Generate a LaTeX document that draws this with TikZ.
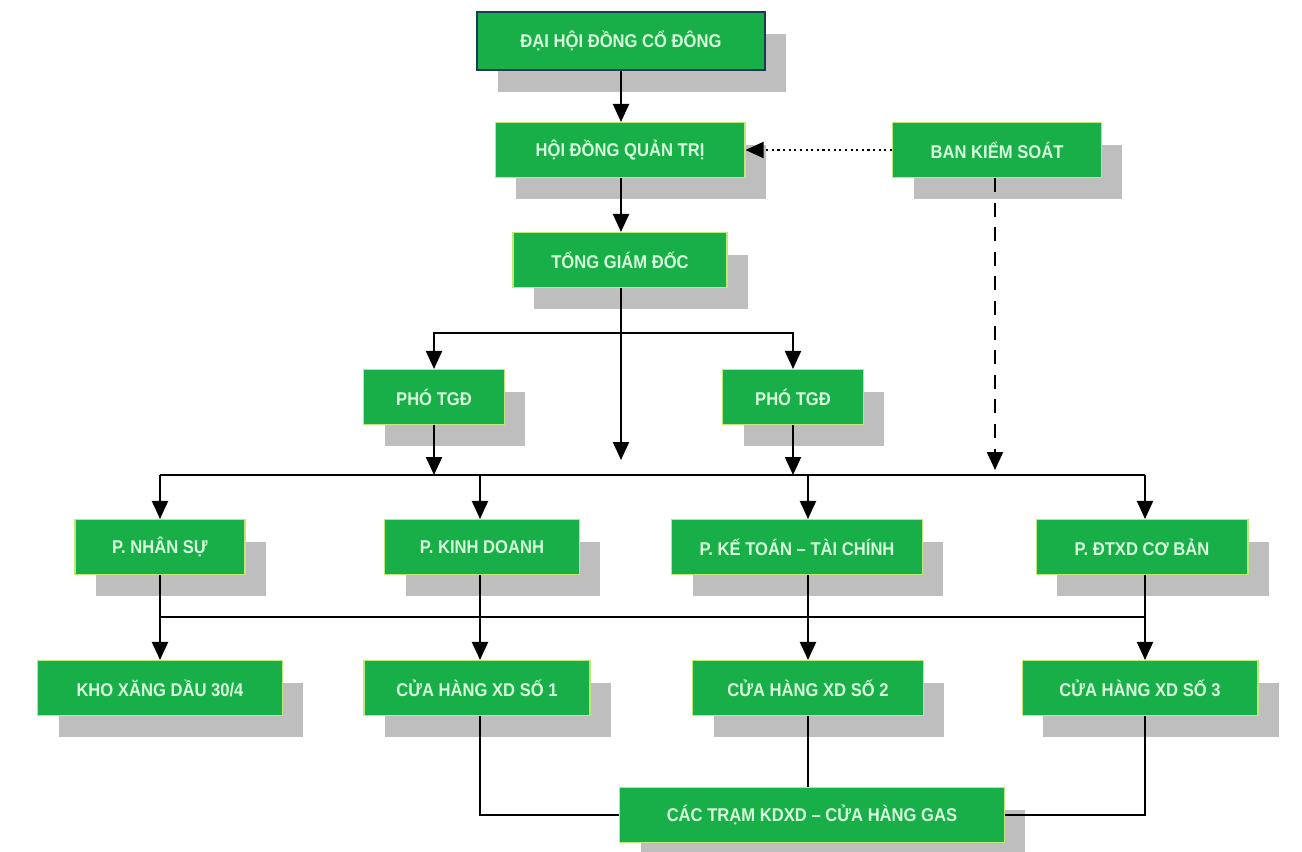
\documentclass[tikz,border=0pt]{standalone}
\usepackage{fontspec}
\setmainfont{Liberation Sans}[FakeStretch=0.9]
\usetikzlibrary{arrows.meta,shadows}
\definecolor{boxgreen}{RGB}{24,174,72}
\definecolor{boxedge}{RGB}{190,232,120}
\definecolor{boxtext}{RGB}{215,255,220}
\definecolor{shadowgray}{RGB}{190,190,190}
\definecolor{topedge}{RGB}{25,60,80}
\tikzset{
	orgbox/.style={fill=boxgreen, draw=boxedge, line width=0.6pt, text=boxtext,
		font=\fontsize{10.5}{12}\selectfont\bfseries, inner sep=0pt, minimum height=1.1cm,
		drop shadow={shadow xshift=0.42cm, shadow yshift=-0.44cm, fill=shadowgray, opacity=1}},
	link/.style={line width=1.2pt},
	tolink/.style={line width=1.2pt, -{Triangle[width=0.32cm,length=0.36cm]}},
}
\begin{document}
\begin{tikzpicture}[x=0.02cm, y=-0.02cm]
		\useasboundingbox (0,0) rectangle (1302,852);

		\node[orgbox, draw=topedge, line width=1.3pt, minimum width=5.76cm, minimum height=1.16cm] (dhd) at (621,41) {ĐẠI HỘI ĐỒNG CỔ ĐÔNG};
		\node[orgbox, minimum width=5cm] (hdqt) at (620,150) {HỘI ĐỒNG QUẢN TRỊ};
		\node[orgbox, minimum width=4.18cm] (bks) at (997,150) {BAN KIỂM SOÁT};
		\node[orgbox, minimum width=4.28cm] (tgd) at (620,260) {TỔNG GIÁM ĐỐC};
		\node[orgbox, minimum width=2.82cm] (ptgd1) at (434,397) {PHÓ TGĐ};
		\node[orgbox, minimum width=2.82cm] (ptgd2) at (793,397) {PHÓ TGĐ};

		\node[orgbox, minimum width=3.4cm] (pns) at (160,547) {P. NHÂN SỰ};
		\node[orgbox, minimum width=3.9cm] (pkd) at (482,547) {P. KINH DOANH};
		\node[orgbox, minimum width=5.02cm] (pktc) at (797,547) {P. KẾ TOÁN – TÀI CHÍNH};
		\node[orgbox, minimum width=4.24cm] (pdtxd) at (1142,547) {P. ĐTXD CƠ BẢN};

		\node[orgbox, minimum width=4.9cm] (kho) at (160,688) {KHO XĂNG DẦU 30/4};
		\node[orgbox, minimum width=4.52cm] (ch1) at (477,688) {CỬA HÀNG XD SỐ 1};
		\node[orgbox, minimum width=4.62cm] (ch2) at (808,688) {CỬA HÀNG XD SỐ 2};
		\node[orgbox, minimum width=4.72cm] (ch3) at (1140,688) {CỬA HÀNG XD SỐ 3};
		\node[orgbox, minimum width=7.7cm] (tram) at (812,815) {CÁC TRẠM KDXD – CỬA HÀNG GAS};

		\coordinate (split) at (621,333);
		\coordinate (stop) at (621,460);
		\coordinate (busl) at (160,475);
		\coordinate (busr) at (1145,475);
		\coordinate (bus2) at (480,475);
		\coordinate (bus3) at (808,475);
		\coordinate (bksend) at (995,470);
		\coordinate (lowl) at (160,617);
		\coordinate (lowr) at (1145,617);

		\draw[tolink] (dhd.south -| stop) -- (hdqt.north -| stop);
		\draw[tolink] (hdqt.south -| stop) -- (tgd.north -| stop);
		\draw[line width=1.2pt, dotted, -{Triangle[width=0.32cm,length=0.36cm]}] (bks) -- (hdqt);
		\draw[line width=1.2pt, dash pattern=on 8pt off 6pt, -{Triangle[width=0.32cm,length=0.36cm]}] (bks.south -| bksend) -- (bksend);

		\draw[tolink] (tgd.south -| stop) -- (stop);
		\draw[tolink] (split) -| (ptgd1);
		\draw[tolink] (split) -| (ptgd2);
		\draw[tolink] (ptgd1) -- (ptgd1 |- busl);
		\draw[tolink] (ptgd2) -- (ptgd2 |- busl);

		\draw[link] (busl) -- (busr);
		\draw[tolink] (busl) -- (pns);
		\draw[tolink] (bus2) -- (bus2 |- pkd.north);
		\draw[tolink] (bus3) -- (bus3 |- pktc.north);
		\draw[tolink] (busr) -- (busr |- pdtxd.north);

		\draw[link] (lowl) -- (lowr);
		\draw[tolink] (pns) -- (kho);
		\draw[tolink] (bus2 |- pkd.south) -- (bus2 |- ch1.north);
		\draw[tolink] (bus3 |- pktc.south) -- (ch2);
		\draw[tolink] (busr |- pdtxd.south) -- (busr |- ch3.north);

		\draw[line width=0.8pt] (bus2 |- ch1.south) |- (tram);
		\draw[line width=0.8pt] (ch2) -- (ch2 |- tram.north);
		\draw[line width=0.8pt] (busr |- ch3.south) |- (tram);
	\end{tikzpicture}
\end{document}
